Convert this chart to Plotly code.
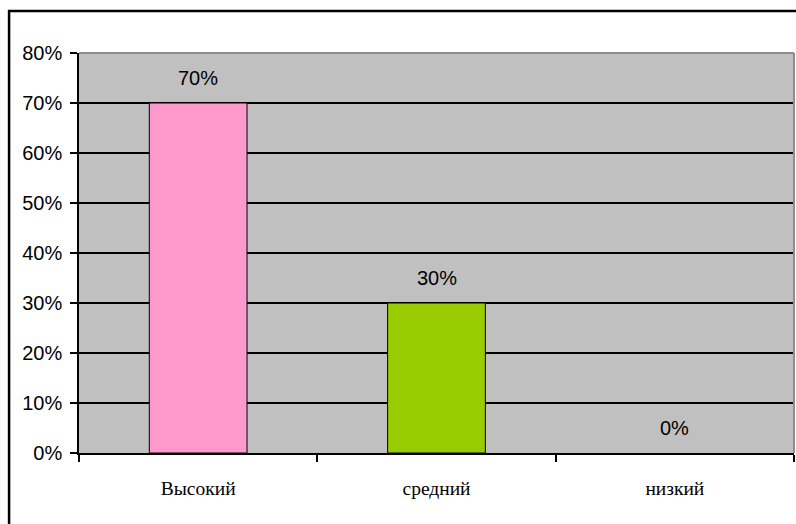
import plotly.graph_objects as go

# Уровни и доли учащихся
levels = ["Высокий", "средний", "низкий"]
shares = [70, 30, 0]
bar_colors = ["#FF99CC", "#99CC00", "#C0C0C0"]
y_ticks = [0, 10, 20, 30, 40, 50, 60, 70, 80]
y_tick_labels = [f"{v}%" for v in y_ticks]

num_font = "Liberation Sans, Arial, sans-serif"
cat_font = "Liberation Serif, Times New Roman, serif"

fig = go.Figure()
fig.add_trace(go.Bar(
    x=levels,
    y=shares,
    width=0.41,
    marker=dict(color=bar_colors,
                line=dict(color="black", width=[1 if v > 0 else 0 for v in shares])),
    hoverinfo="skip",
))

# Подписи значений над столбцами
for lvl, val in zip(levels, shares):
    fig.add_annotation(
        x=lvl, y=val, text=f"{val}%", showarrow=False,
        yshift=25, font=dict(family=num_font, size=20, color="black"),
    )

# Рамка области диаграммы и граница области построения
fig.add_shape(type="rect", xref="paper", yref="paper",
              x0=-0.0978, x1=1.01, y0=-0.25, y1=1.105,
              line=dict(color="black", width=2.5), fillcolor="rgba(0,0,0,0)")
fig.add_shape(type="line", xref="paper", yref="paper",
              x0=0, x1=1, y0=1, y1=1, line=dict(color="#8C8C8C", width=2))
fig.add_shape(type="line", xref="paper", yref="paper",
              x0=1, x1=1, y0=0, y1=1, line=dict(color="#8C8C8C", width=2))

fig.update_layout(
    width=796, height=524,
    margin=dict(l=79, r=2, t=53, b=71),
    paper_bgcolor="white",
    plot_bgcolor="#C0C0C0",
    showlegend=False,
    bargap=0.59,
)
fig.update_yaxes(
    range=[0, 80], tickvals=y_ticks, ticktext=y_tick_labels,
    showgrid=True, gridcolor="black", gridwidth=1.5,
    showline=True, linecolor="black", linewidth=1.5,
    ticks="outside", ticklen=7, tickcolor="black", tickwidth=1.5,
    ticklabelstandoff=4,
    tickfont=dict(family=num_font, size=20, color="black"),
    zeroline=False, fixedrange=True,
)
fig.update_xaxes(
    showgrid=False, showline=True, linecolor="black", linewidth=2,
    ticks="outside", ticklen=7, tickcolor="black", tickwidth=1.5,
    tickson="boundaries", ticklabelstandoff=17,
    tickfont=dict(family=cat_font, size=19.5, color="black"),
    fixedrange=True,
)

fig.write_html("out.html")
